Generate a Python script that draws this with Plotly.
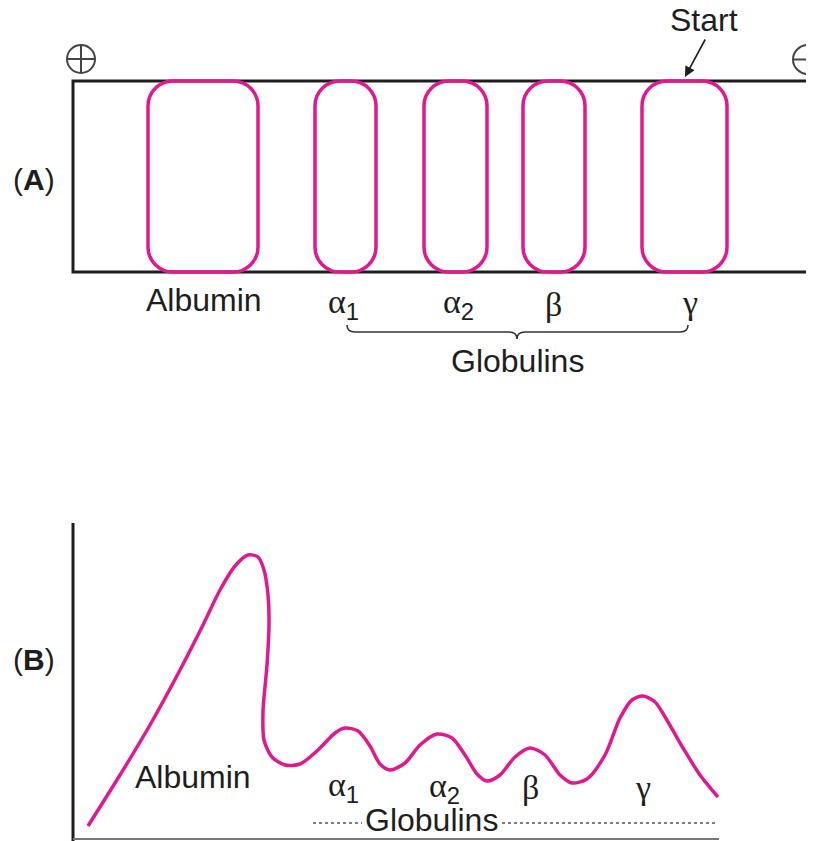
import plotly.graph_objects as go

# serum protein electrophoresis: bands on the strip (A) and densitometer trace (B)
band_names = ["Albumin", "α<sub>1</sub>", "α<sub>2</sub>", "β", "γ"]
band_left = [148, 315, 424, 523, 642]
band_right = [258, 376, 487, 585, 727]

curve_x = [88, 120, 150, 180, 203, 220, 235, 248, 258, 264, 268, 269, 267, 263, 264,
           272, 285, 300, 318, 335, 345, 358, 370, 380, 390, 405, 420, 437, 452, 465,
           477, 487, 500, 515, 530, 545, 560, 572, 587, 605, 620, 632, 643, 655, 668,
           683, 700, 718]
curve_y = [826, 775, 725, 670, 625, 590, 566, 555, 557, 570, 595, 625, 665, 712, 740,
           757, 765, 764, 750, 733, 728, 731, 746, 764, 770, 763, 745, 734, 738, 755,
           774, 781, 775, 757, 748, 755, 775, 783, 779, 755, 718, 700, 696, 702, 722,
           748, 775, 797]

PINK = "#E0198C"
INK = "#1e1e1e"
SANS = "Liberation Sans"
SERIF = "Liberation Serif"
FS = 32


def rrect(x0, x1, y0, y1, r):
    k = r * 0.448
    return (f"M {x0 + r},{y0} L {x1 - r},{y0} C {x1 - k},{y0} {x1},{y0 + k} {x1},{y0 + r} "
            f"L {x1},{y1 - r} C {x1},{y1 - k} {x1 - k},{y1} {x1 - r},{y1} "
            f"L {x0 + r},{y1} C {x0 + k},{y1} {x0},{y1 - k} {x0},{y1 - r} "
            f"L {x0},{y0 + r} C {x0},{y0 + k} {x0 + k},{y0} {x0 + r},{y0} Z")


fig = go.Figure()

strip_top, strip_bot = 81, 272

# (A) strip
fig.add_shape(type="rect", x0=73, x1=812, y0=strip_top, y1=strip_bot,
              line=dict(color=INK, width=3))
for l, r in zip(band_left, band_right):
    fig.add_shape(type="path", path=rrect(l, r, strip_top, strip_bot, 25),
                  line=dict(color=PINK, width=3.5))

# electrode signs
fig.add_shape(type="circle", x0=67, x1=95, y0=45, y1=73, line=dict(color="#444", width=2))
fig.add_shape(type="line", x0=81, x1=81, y0=45, y1=73, line=dict(color="#444", width=2))
fig.add_shape(type="line", x0=67, x1=95, y0=59, y1=59, line=dict(color="#444", width=2))
fig.add_shape(type="circle", x0=793, x1=823, y0=45, y1=74, line=dict(color="#444", width=2))
fig.add_shape(type="line", x0=793, x1=823, y0=59.5, y1=59.5, line=dict(color="#444", width=2))

fig.add_annotation(x=704, y=20, text="Start", showarrow=False,
                   font=dict(family=SANS, size=FS, color=INK))
fig.add_annotation(x=685, y=77, ax=706, ay=38, axref="x", ayref="y", text="",
                   showarrow=True, arrowhead=2, arrowsize=1.3, arrowwidth=1.6, arrowcolor=INK)

fig.add_annotation(x=34, y=179, text="(<b>A</b>)", showarrow=False,
                   font=dict(family=SANS, size=30, color=INK))
fig.add_annotation(x=34, y=659, text="(<b>B</b>)", showarrow=False,
                   font=dict(family=SANS, size=30, color=INK))

# labels below strip and under the trace
a_lab_x = [204, 343, 458, 553, 690]
a_lab_y = [300, 304, 304, 304, 302]
b_lab_x = [193, 343, 444, 530, 643]
b_lab_y = [777, 787, 788, 787, 787]
for i, name in enumerate(band_names):
    if i == 0:
        f = dict(family=SANS, size=FS, color=INK)
        txt = name
    else:
        f = dict(family=SERIF, size=34, color=INK)
        txt = name.replace("<sub>", f"<sub><span style='font-family:{SANS}'>").replace(
            "</sub>", "</span></sub>")
    fig.add_annotation(x=a_lab_x[i], y=a_lab_y[i], text=txt, showarrow=False, font=f)
    fig.add_annotation(x=b_lab_x[i], y=b_lab_y[i], text=txt, showarrow=False, font=f)

# brace under globulins
bl, bt, br, by = 347, 517, 688, 332
fig.add_shape(type="path",
              path=(f"M {bl},{by - 7} Q {bl},{by} {bl + 8},{by} L {bt - 8},{by} Q {bt},{by} {bt},{by + 7} "
                    f"Q {bt},{by} {bt + 8},{by} L {br - 8},{by} Q {br},{by} {br},{by - 7}"),
              line=dict(color="#333", width=1.6))
fig.add_annotation(x=517, y=361, text="Globulins", showarrow=False,
                   font=dict(family=SANS, size=FS, color=INK))

# (B) axes
fig.add_shape(type="line", x0=73, x1=73, y0=523, y1=841, line=dict(color=INK, width=3))
fig.add_shape(type="line", x0=73, x1=719, y0=839, y1=839, line=dict(color="#777", width=2))

fig.add_trace(go.Scatter(x=curve_x, y=curve_y, mode="lines",
                         line=dict(color=PINK, width=3.5, shape="spline", smoothing=0.8),
                         hoverinfo="skip"))

fig.add_shape(type="line", x0=313, x1=362, y0=823, y1=823,
              line=dict(color="#555", width=1.5, dash="dot"))
fig.add_shape(type="line", x0=502, x1=718, y0=823, y1=823,
              line=dict(color="#555", width=1.5, dash="dot"))
fig.add_annotation(x=431, y=820, text="Globulins", showarrow=False,
                   font=dict(family=SANS, size=FS, color=INK))

# page body has an 8px margin, so the ranges are offset to keep pixel positions
fig.update_layout(width=814, height=841, margin=dict(l=0, r=0, t=0, b=0),
                  plot_bgcolor="white", paper_bgcolor="white", showlegend=False,
                  xaxis=dict(range=[8, 822], visible=False, fixedrange=True),
                  yaxis=dict(range=[849, 8], visible=False, fixedrange=True))

fig.write_html("out.html")
